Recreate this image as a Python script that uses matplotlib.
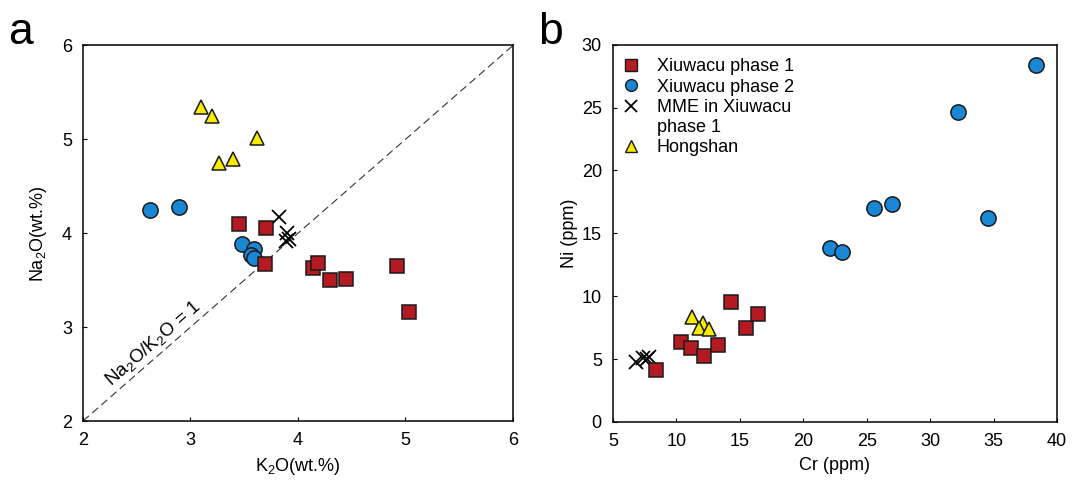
import matplotlib
matplotlib.use("Agg")
import matplotlib.pyplot as plt
from matplotlib.lines import Line2D

plt.rcParams['font.family'] = ['Liberation Sans', 'DejaVu Sans']

# panel a: K2O vs Na2O (wt.%)
k2o_p1 = [3.45, 3.70, 3.69, 4.14, 4.19, 4.30, 4.45, 4.92, 5.03]
na2o_p1 = [4.10, 4.06, 3.67, 3.63, 3.68, 3.50, 3.51, 3.65, 3.16]
k2o_p2 = [2.62, 2.89, 3.48, 3.59, 3.56, 3.59]
na2o_p2 = [4.25, 4.28, 3.89, 3.83, 3.77, 3.74]
k2o_mme = [3.82, 3.90, 3.92, 3.89]
na2o_mme = [4.17, 4.00, 3.94, 3.92]
k2o_hs = [3.10, 3.20, 3.62, 3.27, 3.40]
na2o_hs = [5.35, 5.25, 5.01, 4.75, 4.79]

# panel b: Cr vs Ni (ppm)
cr_p1 = [8.4, 10.4, 11.15, 12.2, 13.3, 14.3, 15.46, 16.4]
ni_p1 = [4.13, 6.38, 5.91, 5.25, 6.12, 9.54, 7.44, 8.58]
cr_p2 = [22.1, 23.07, 25.6, 26.97, 32.2, 34.6, 38.34]
ni_p2 = [13.86, 13.54, 17.0, 17.3, 24.64, 16.24, 28.38]
cr_mme = [6.81, 7.39, 7.65, 7.86]
ni_mme = [4.79, 5.06, 4.98, 5.19]
cr_hs = [11.25, 12.12, 11.78, 12.57]
ni_hs = [8.37, 7.90, 7.45, 7.37]

red = '#b31a22'
blue = '#1a87d4'
yellow = '#f7ec00'
edge = '#1a1a1a'
fs = 13

sq = dict(marker='s', ms=10.5, mfc=red, mec=edge, mew=1.1, ls='none')
ci = dict(marker='o', ms=11, mfc=blue, mec=edge, mew=1.1, ls='none')
xx = dict(marker='x', ms=10, mec='black', mew=1.3, ls='none')
tr = dict(marker='^', ms=10.5, mfc=yellow, mec=edge, mew=1.1, ls='none')

fig = plt.figure(figsize=(10.72, 4.86), dpi=100)
ax1 = fig.add_axes([0.0774, 0.1337, 0.4011, 0.7727])
ax2 = fig.add_axes([0.5718, 0.1317, 0.4142, 0.7763])

for ax in (ax1, ax2):
    for s in ax.spines.values():
        s.set_linewidth(1.1)
    ax.tick_params(direction='in', length=3, width=0.8, labelsize=fs, pad=8)

# --- a ---
ax1.plot([2, 6], [2, 6], ls=(0, (7, 4)), color='#333333', lw=0.8)
ax1.plot(k2o_mme, na2o_mme, **xx)
ax1.plot(k2o_p2, na2o_p2, **ci)
ax1.plot(k2o_p1, na2o_p1, **sq)
ax1.plot(k2o_hs, na2o_hs, **tr)
ax1.set_xlim(2, 6)
ax1.set_ylim(2, 6)
ax1.set_xticks([2, 3, 4, 5, 6])
ax1.set_yticks([2, 3, 4, 5, 6])
ax1.set_xlabel('K$_\\mathregular{2}$O(wt.%)', fontsize=fs, labelpad=5)
ax1.set_ylabel('Na$_\\mathregular{2}$O(wt.%)', fontsize=fs, labelpad=9)
ax1.text(2.66, 2.82, 'Na$_\\mathregular{2}$O/K$_\\mathregular{2}$O = 1', rotation=41,
         ha='center', va='center', fontsize=13.5, rotation_mode='anchor')

# --- b ---
ax2.plot(cr_mme, ni_mme, **xx)
ax2.plot(cr_p2, ni_p2, **ci)
ax2.plot(cr_p1, ni_p1, **sq)
ax2.plot(cr_hs, ni_hs, **tr)
ax2.set_xlim(5, 40)
ax2.set_ylim(0, 30)
ax2.set_xticks(range(5, 41, 5))
ax2.set_yticks(range(0, 31, 5))
ax2.set_xlabel('Cr (ppm)', fontsize=fs, labelpad=5)
ax2.set_ylabel('Ni (ppm)', fontsize=fs, labelpad=3)

handles = [
    Line2D([], [], marker='s', ms=8, mfc=red, mec=edge, mew=1.0, ls='none'),
    Line2D([], [], marker='o', ms=8.5, mfc=blue, mec=edge, mew=1.0, ls='none'),
    Line2D([], [], marker='x', ms=8, mec='black', mew=1.3, ls='none'),
    Line2D([], [], ls='none'),
    Line2D([], [], marker='^', ms=8.5, mfc=yellow, mec=edge, mew=1.0, ls='none'),
]
labels = ['Xiuwacu phase 1', 'Xiuwacu phase 2', 'MME in Xiuwacu', 'phase 1', 'Hongshan']
ax2.legend(handles, labels, loc='upper left', bbox_to_anchor=(0.005, 0.978),
           frameon=False, fontsize=fs, handlelength=1.2, handletextpad=0.8,
           labelspacing=0.18, borderaxespad=0, borderpad=0.3)

fig.text(0.008, 0.975, 'a', fontsize=32, va='top', ha='left')
fig.text(0.502, 0.975, 'b', fontsize=32, va='top', ha='left')

fig.savefig('out.png', dpi=100)
